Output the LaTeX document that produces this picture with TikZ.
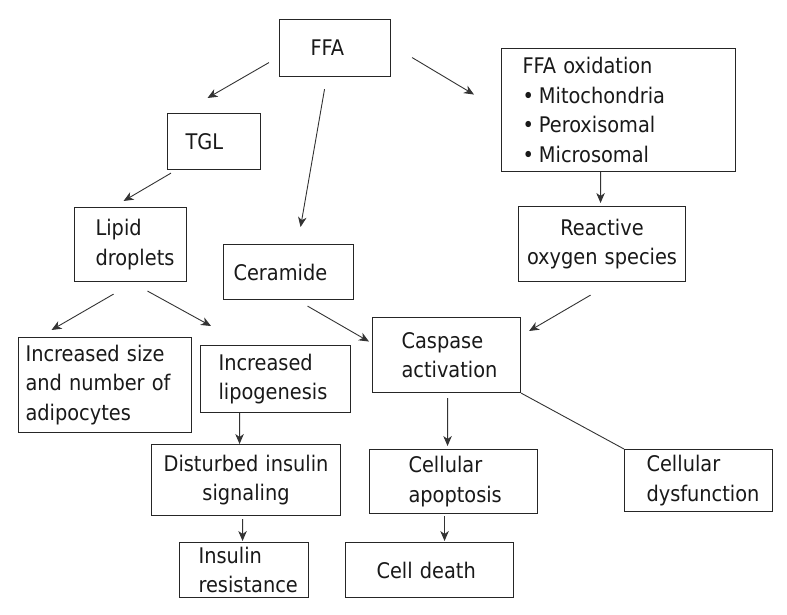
\documentclass[tikz,border=0pt]{standalone}
\usepackage{fontspec}
\setmainfont{DejaVu Sans Condensed}
\usetikzlibrary{arrows.meta,calc}
\begin{document}
\begin{tikzpicture}[x=1bp,y=-1bp,
  box/.style={draw=black!85, line width=1.1bp, anchor=north west, inner ysep=0pt,
    align=left, font=\fontsize{21.6}{29.5}\selectfont, text=black!90},
  cbox/.style={box, align=center},
  arr/.style={draw=black!80, line width=0.9bp, -{Stealth[length=10bp,width=8.5bp,inset=3bp]}},
  plain/.style={draw=black!80, line width=0.9bp}]
\useasboundingbox (0,0) rectangle (787,615);
% boxes
\node[box, minimum width=111bp, minimum height=57bp, inner xsep=31bp, text width=49bp] (ffa) at (279,19) {FFA};
\node[box, minimum width=93bp, minimum height=56bp, inner xsep=18bp, text width=57bp] (tgl) at (167,113) {TGL};
\node[box, minimum width=112bp, minimum height=74bp, inner xsep=21bp, text width=70bp] (lipid) at (74,207) {Lipid\\droplets};
\node[box, minimum width=130bp, minimum height=55bp, inner xsep=10bp, text width=110bp] (cer) at (223,244) {Ceramide};
\node[box, minimum width=234bp, minimum height=123bp, inner xsep=21bp, text width=192bp] (ox) at (501,48)
  {FFA oxidation\\•\hspace{5bp}Mitochondria\\•\hspace{5bp}Peroxisomal\\•\hspace{5bp}Microsomal};
\node[cbox, minimum width=167bp, minimum height=75bp, inner xsep=4bp, text width=159bp] (ros) at (518,206) {Reactive\\oxygen species};
\node[box, minimum width=173bp, minimum height=95bp, inner xsep=7bp, text width=159bp] (inc) at (18,337) {Increased size\\and number of\\adipocytes};
\node[box, minimum width=150bp, minimum height=67bp, inner xsep=18bp, text width=114bp] (lipo) at (200,345) {Increased\\lipogenesis};
\node[cbox, minimum width=189bp, minimum height=71bp, inner xsep=4bp, text width=181bp] (dist) at (151,444) {Disturbed insulin\\signaling};
\node[box, minimum width=129bp, minimum height=55bp, inner xsep=19bp, text width=91bp] (ir) at (179,542) {Insulin\\resistance};
\node[box, minimum width=148bp, minimum height=75bp, inner xsep=29bp, text width=90bp] (casp) at (372,317) {Caspase\\activation};
\node[box, minimum width=168bp, minimum height=64bp, inner xsep=39bp, text width=90bp] (apop) at (369,449) {Cellular\\apoptosis};
\node[box, minimum width=168bp, minimum height=55bp, inner xsep=31bp, text width=106bp] (death) at (345,542) {Cell death};
\node[box, minimum width=148bp, minimum height=62bp, inner xsep=22bp, text width=104bp] (dysf) at (624,449) {Cellular\\dysfunction};
% connectors
\draw[arr] ($(ffa.west)+(-10,14.5)$) -- ($(tgl.north)+(-6.5,-15)$);
\draw[arr] ($(ffa.south)+(-10.5,12)$) -- ($(cer.north)+(12,-17)$);
\draw[arr] ($(ffa.east)+(21,9.5)$) -- ($(ox.west)+(-27,-15.5)$);
\draw[arr] ($(tgl.south west)+(4,3)$) -- ($(lipid.north)+(-7,-6)$);
\draw[arr] ($(lipid.south)+(-17,12)$) -- ($(inc.north)+(-53.5,-7)$);
\draw[arr] ($(lipid.south)+(17,9)$) -- ($(lipo.north west)+(11,-19)$);
\draw[arr] ($(cer.south)+(19,6)$) -- ($(casp.west)+(-3,-13.5)$);
\draw[arr] ($(ox.south)+(-18,0)$) -- ($(ros.north)+(-1.5,-3)$);
\draw[arr] ($(ros.south)+(-11.5,13)$) -- ($(casp.north east)+(8,14)$);
\draw[arr] ($(lipo.south)+(-36,0)$) -- ($(dist.north)+(-6.5,0)$);
\draw[arr] ($(dist.south)+(-3.5,3)$) -- ($(ir.north)+(-1.5,-1)$);
\draw[arr] ($(casp.south)+(1,5)$) -- ($(apop.north)+(-6,-3)$);
\draw[arr] ($(apop.south)+(-9,2)$) -- ($(death.north)+(15,-1)$);
\draw[plain] (casp.south east) -- (dysf.north west);
\end{tikzpicture}
\end{document}
